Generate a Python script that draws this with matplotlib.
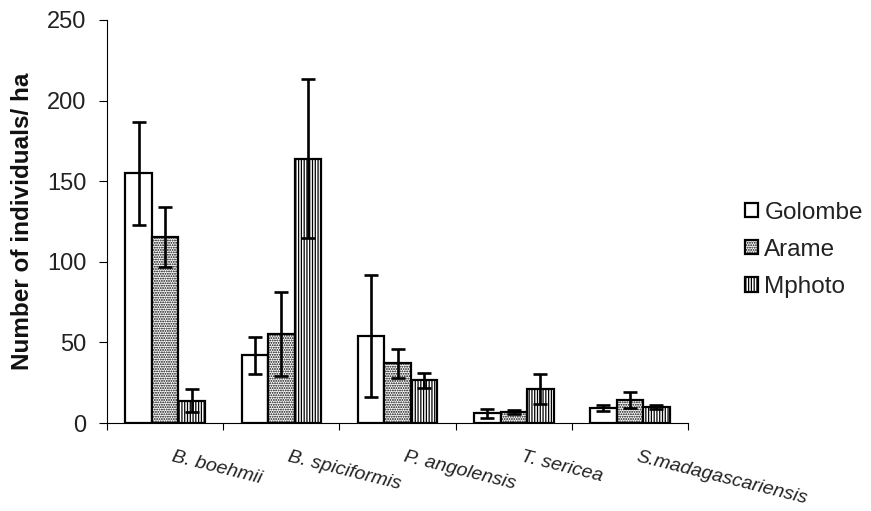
import matplotlib
matplotlib.use("Agg")
import matplotlib.pyplot as plt
import matplotlib.transforms as mtransforms
import numpy as np

plt.rcParams['font.family'] = ['Liberation Sans', 'DejaVu Sans']
plt.rcParams['hatch.linewidth'] = 0.9

species = ["B. boehmii", "B. spiciformis", "P. angolensis", "T. sericea", "S.madagascariensis"]
sites = ["Golombe", "Arame", "Mphoto"]

golombe = [155, 42, 54, 6, 9.5]
arame = [115.5, 55.5, 37, 7, 14.5]
mphoto = [14, 164, 26.5, 21, 10]

golombe_err = [32, 11.5, 38, 2.7, 2]
arame_err = [18.5, 26, 8.8, 1.2, 5]
mphoto_err = [7, 49.5, 4.8, 9.3, 1.2]

values = [golombe, arame, mphoto]
errors = [golombe_err, arame_err, mphoto_err]
hatches = ['', '.......', '||||||']

fig = plt.figure(figsize=(8.71, 5.11), dpi=100)
ax = fig.add_axes([0.1228, 0.172, 0.6672, 0.789])

x = np.arange(len(species))
w = 0.228
for i, (vals, errs, h, name) in enumerate(zip(values, errors, hatches, sites)):
    pos = x + (i - 1) * w
    ax.bar(pos, vals, width=w, facecolor='white', edgecolor='black',
           linewidth=1.6, hatch=h, label=name, zorder=2)
    ax.errorbar(pos, vals, yerr=errs, fmt='none', ecolor='black',
                elinewidth=1.9, capsize=5, capthick=1.9, zorder=3)

ax.set_xlim(-0.5, len(species) - 0.5)
ax.set_ylim(0, 250)
ax.set_yticks(np.arange(0, 251, 50))
ax.tick_params(axis='y', labelsize=17, direction='out', length=6, width=0.8, pad=9,
               labelcolor='#222222')
ax.set_xticks(np.arange(-0.5, len(species), 1.0))
ax.set_xticklabels([])
ax.tick_params(axis='x', direction='out', length=5, width=0.8)
for s in ['top', 'right']:
    ax.spines[s].set_visible(False)
for s in ['left', 'bottom']:
    ax.spines[s].set_linewidth(0.8)

fig.text(23 / 871, 0.566, "Number of individuals/ ha", fontsize=17.5, fontweight='bold',
         rotation=90, ha='center', va='center', color='#111111')

# species names: slanted, italic, hanging just right of each group's centre
offset = mtransforms.ScaledTranslation(9 / 100, -25 / 100, fig.dpi_scale_trans)
for xi, name in zip(x, species):
    ax.text(xi, 0, name, fontsize=14, style='italic', rotation=-14,
            rotation_mode='anchor', ha='left', va='top', color='#222222',
            transform=ax.transData + offset)

leg = ax.legend(loc='center left', bbox_to_anchor=(1.06, 0.43), frameon=False,
                fontsize=17.5, handlelength=0.55, handleheight=0.55, handletextpad=0.25,
                labelspacing=0.62)
for t in leg.get_texts():
    t.set_color('#222222')

fig.savefig("out.png", dpi=100)
